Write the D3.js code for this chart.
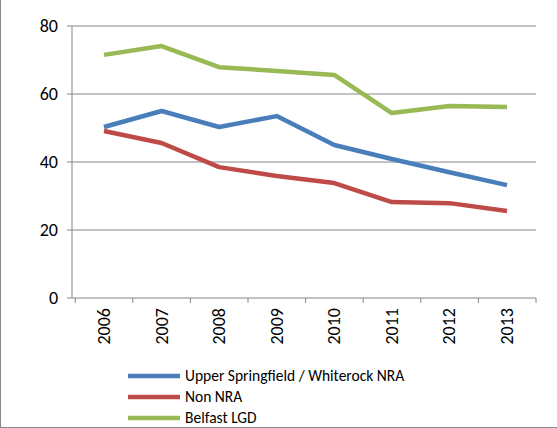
<!DOCTYPE html><html><head><script src="https://cdn.jsdelivr.net/npm/d3@7"></script>
<style>body{margin:0;background:#fff}</style></head><body><svg id="c" width="557" height="428"></svg>
<script>
const years=["2006","2007","2008","2009","2010","2011","2012","2013"];
const upper=[50.3,55,50.3,53.5,45,40.9,37,33.2];
const nonNRA=[49.1,45.6,38.5,35.9,33.8,28.2,27.9,25.6];
const belfast=[71.5,74.1,67.9,66.8,65.6,54.4,56.5,56.2];
const yTicks=[0,20,40,60,80];
const series=[{name:"Upper Springfield / Whiterock NRA",v:upper,c:"#4a7ebb"},{name:"Non NRA",v:nonNRA,c:"#be4b48"},{name:"Belfast LGD",v:belfast,c:"#98b954"}];
const svg=d3.select("#c");
const F="Calibri, Carlito, 'Liberation Sans', sans-serif";
svg.append("rect").attr("x",0.5).attr("y",-1).attr("width",600).attr("height",428.5).attr("fill","none").attr("stroke","#888");
const x=d3.scalePoint().domain(years).range([104,507]).padding(0);
const y=d3.scaleLinear().domain([0,80]).range([298,26]);
const g=svg.append("g");
yTicks.forEach(t=>{g.append("line").attr("x1",72).attr("x2",536).attr("y1",y(t)).attr("y2",y(t)).attr("stroke","#868686").attr("stroke-width",1);});
g.append("line").attr("x1",72).attr("x2",72).attr("y1",26).attr("y2",298).attr("stroke","#868686");
yTicks.forEach(t=>{g.append("line").attr("x1",67).attr("x2",72).attr("y1",y(t)).attr("y2",y(t)).attr("stroke","#868686");
g.append("text").attr("x",58).attr("y",y(t)+6).attr("text-anchor","end").attr("font-family",F).attr("font-size",18).text(t);});
const step=57.6;
for(let i=0;i<=8;i++){const xx=104-step/2+i*step;g.append("line").attr("x1",xx).attr("x2",xx).attr("y1",298).attr("y2",303).attr("stroke","#868686");}
years.forEach(yr=>{g.append("text").attr("transform",`translate(${x(yr)+6},${308}) rotate(-90)`).attr("text-anchor","end").attr("font-family",F).attr("font-size",18).text(yr);});
const line=d3.line().x((d,i)=>x(years[i])).y(d=>y(d));
series.forEach((s,k)=>{g.append("path").attr("d",line(s.v)).attr("fill","none").attr("stroke",s.c).attr("stroke-width",4.5).attr("stroke-linejoin","round");
const ly=376+k*21;
g.append("line").attr("x1",128).attr("x2",180).attr("y1",ly).attr("y2",ly).attr("stroke",s.c).attr("stroke-width",4.5);
g.append("text").attr("x",185).attr("y",ly+5).attr("font-family",F).attr("font-size",15.5).text(s.name);});
</script></body></html>
